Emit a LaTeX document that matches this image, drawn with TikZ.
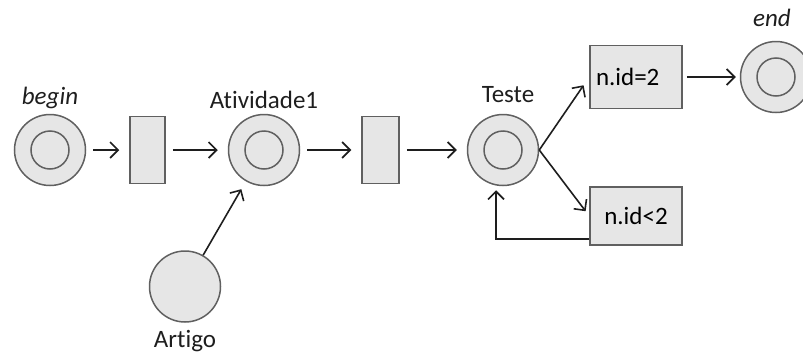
\documentclass[tikz,border=0pt]{standalone}
\usepackage{fontspec}
\setmainfont{Carlito}[Ligatures=NoCommon]
\usepackage{tikz}
\usetikzlibrary{arrows.meta,positioning}
\definecolor{Edge}{HTML}{606060}
\definecolor{Shade}{HTML}{E6E6E6}
\definecolor{Ink}{HTML}{1E1E1E}
\tikzset{place/.style={circle,draw=Edge,fill=Shade,line width=.75pt,minimum size=35.5pt,inner sep=0pt},marked/.style={place,path picture={\draw[Edge,line width=.75pt](path picture bounding box.center) circle (9.5pt);}},trans/.style={rectangle,draw=Edge,fill=Shade,line width=.75pt,minimum width=17.5pt,minimum height=33.5pt,inner sep=0pt},guard/.style={rectangle,draw=Edge,fill=Shade,line width=.75pt,minimum width=46pt,inner xsep=3pt},lbl/.style={inner sep=1pt,text=Ink},flow/.style={-{Straight Barb[length=4pt,width=8pt]},line width=.8pt,draw=Ink},gap/.style={shorten <=3.5pt,shorten >=5pt}}

\begin{document}
\begin{tikzpicture}[every node/.style={font=\fontsize{12.5}{14}\selectfont},label distance=1.5pt]
      \useasboundingbox (0,0) rectangle (401.5pt,-177pt);
      \node[marked,label={[lbl]above:\textit{begin}}](begin) at (25pt,-75pt){};
      \node[trans,right=21.5pt of begin](t1){};
      \node[marked,right=31pt of t1,label={[lbl]above:Atividade1}](a1){};
      \node[trans,minimum width=18.5pt,right=30.5pt of a1](t2){};
      \node[marked,right=33.5pt of t2,label={[lbl,label distance=4.5pt,xshift=2.5pt]above:Teste}](teste){};
      \node[guard,text width=40pt,align=left,minimum height=31.5pt,right=25pt of teste,yshift=36.5pt](g2){n.id=2};
      \node[guard,minimum height=29pt,right=25pt of teste,yshift=-33pt](l2){n.id<2};
      \node[marked,right=28.5pt of g2,label={[lbl,label distance=6pt,xshift=-2pt]above:\textit{end}}](end){};
      \node[place,below=32pt of a1,xshift=-39.5pt,label={[lbl,label distance=2.5pt]below:Artigo}](artigo){};
      \draw[flow,gap](begin)--(t1);\draw[flow,gap](t1)--(a1);\draw[flow,gap](a1)--(t2);\draw[flow,gap](t2)--(teste);
      \draw[flow,shorten >=4.5pt](artigo)--(a1);
      \draw[flow,shorten >=5pt](teste.east)--(g2.west);
      \draw[flow,shorten >=3pt](teste.east)--(l2.west);
      \draw[flow,shorten <=2pt,shorten >=2pt](g2.east)--(g2.east-|end.west);
      \draw[flow,shorten >=2pt]([yshift=3.5pt]l2.south west)-|([xshift=-3.5pt]teste.south);
    \end{tikzpicture}
\end{document}
